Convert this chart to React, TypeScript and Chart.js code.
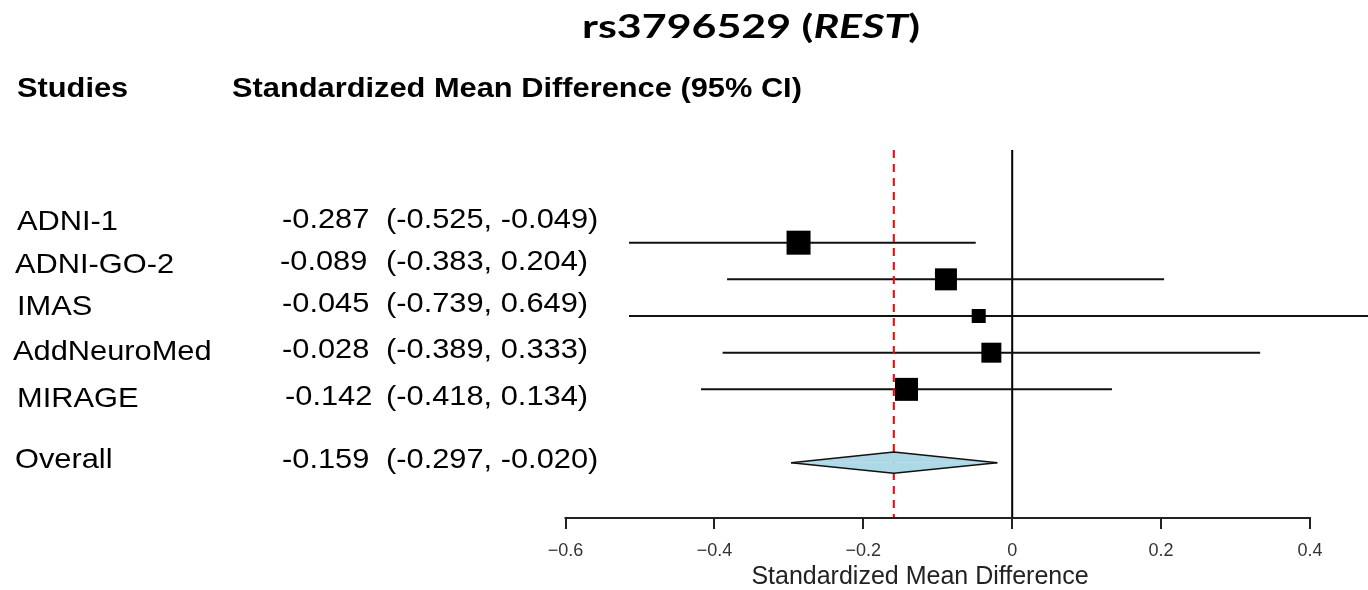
import React, { useEffect, useRef } from 'react';
import { Chart, registerables } from 'chart.js';

Chart.register(...registerables);

// ---------------- data ----------------
const studies = ['ADNI-1', 'ADNI-GO-2', 'IMAS', 'AddNeuroMed', 'MIRAGE'];
const smd = [-0.287, -0.089, -0.045, -0.028, -0.142];
const ciLower = [-0.525, -0.383, -0.739, -0.389, -0.418];
const ciUpper = [-0.049, 0.204, 0.649, 0.333, 0.134];
const weights = [26.4, 22.2, 9.0, 18.3, 24.2];
const overallLabel = 'Overall';
const overallSmd = -0.159;
const overallLower = -0.297;
const overallUpper = -0.02;
const xTicks = [-0.6, -0.4, -0.2, 0, 0.2, 0.4];
const studyRows = [1, 2, 3, 4, 5];
const overallRow = 7;

const titleMain = 'rs3796529 (';
const titleGene = 'REST';
const titleEnd = ')';
const headStudies = 'Studies';
const headEffect = 'Standardized Mean Difference (95% CI)';
const axisTitle = 'Standardized Mean Difference';

// ---------------- layout ----------------
const W = 1368;
const H = 590;
const PLOT_LEFT = 472;
const AXIS_H = 72;
const X_MIN = -0.7256;
const X_MAX = 0.4779;
const Y_MIN = -5.618;
const Y_MAX = 8.508;
const REF_TOP = -1.53;
const CLIP_LEFT_PX = 629;
const MAX_SIDE = 24;
const DIAMOND_HALF = 0.29;
const FONT = "'Liberation Sans', Arial, sans-serif";
const TITLE_FONT = "Lato, 'Open Sans', sans-serif";
const TEXT_SX = 1.1;

const nameX = [17, 15, 17, 13, 17];
const nameBase = [230, 273, 315, 360, 407];
const valX = [282, 280, 282, 282, 285];
const valBase = [228, 270, 312, 358, 405];
const ciX = 386;
const overallNameX = 15;
const overallBase = 468;

const fmt = (v: number) => v.toFixed(3);
const fmtTick = (v: number) => {
  const r = Math.round(v * 10) / 10;
  if (r === 0) return '0';
  return (r < 0 ? '\u2212' : '') + Math.abs(r).toFixed(1);
};

function drawText(ctx: CanvasRenderingContext2D, text: string, x: number, y: number, font: string, sx = 1) {
  ctx.save();
  ctx.translate(x, y);
  ctx.scale(sx, 1);
  ctx.font = font;
  ctx.textAlign = 'left';
  ctx.textBaseline = 'alphabetic';
  ctx.fillStyle = '#000';
  ctx.fillText(text, 0, 0);
  ctx.restore();
}

const TF = `bold 32px ${TITLE_FONT}`;
const TFI = `italic bold 32px ${TITLE_FONT}`;

const textPlugin = {
  id: 'forestText',
  afterDraw(chart: any) {
    const ctx: CanvasRenderingContext2D = chart.ctx;
    const xs = chart.scales.x;
    const area = chart.chartArea;

    // axis line
    ctx.save();
    ctx.strokeStyle = '#222';
    ctx.lineWidth = 2;
    ctx.lineCap = 'square';
    ctx.beginPath();
    ctx.moveTo(xs.getPixelForValue(xTicks[0]), area.bottom);
    ctx.lineTo(xs.getPixelForValue(xTicks[xTicks.length - 1]), area.bottom);
    ctx.stroke();
    ctx.restore();

    // title with italic gene name
    ctx.save();
    ctx.font = TF;
    const w1 = ctx.measureText(titleMain).width;
    const w3 = ctx.measureText(titleEnd).width;
    ctx.font = TFI;
    const w2 = ctx.measureText(titleGene).width;
    ctx.restore();
    const tsx = 338 / (w1 + w2 + w3);
    const tx = 582;
    const ty = 38;
    drawText(ctx, titleMain, tx, ty, TF, tsx);
    drawText(ctx, titleGene, tx + w1 * tsx, ty, TFI, tsx);
    drawText(ctx, titleEnd, tx + (w1 + w2) * tsx, ty, TF, tsx);

    // headers
    const hf = `bold 28px ${FONT}`;
    drawText(ctx, headStudies, 17, 97, hf, TEXT_SX);
    drawText(ctx, headEffect, 232, 97, hf, TEXT_SX);

    // rows
    const rf = `28px ${FONT}`;
    studies.forEach((s, i) => {
      drawText(ctx, s, nameX[i], nameBase[i], rf, TEXT_SX);
      drawText(ctx, fmt(smd[i]), valX[i], valBase[i], rf, TEXT_SX);
      drawText(ctx, `(${fmt(ciLower[i])}, ${fmt(ciUpper[i])})`, ciX, valBase[i], rf, TEXT_SX);
    });
    drawText(ctx, overallLabel, overallNameX, overallBase, rf, TEXT_SX);
    drawText(ctx, fmt(overallSmd), 282, overallBase, rf, TEXT_SX);
    drawText(ctx, `(${fmt(overallLower)}, ${fmt(overallUpper)})`, ciX, overallBase, rf, TEXT_SX);
  },
};

export default function App() {
  const ref = useRef<HTMLCanvasElement>(null);

  useEffect(() => {
    const maxW = Math.max(...weights);
    const ciClip = { left: -(CLIP_LEFT_PX - PLOT_LEFT), top: false, right: 0, bottom: false };

    const datasets: any[] = [];

    datasets.push({
      label: 'zero',
      data: [
        { x: 0, y: REF_TOP },
        { x: 0, y: Y_MAX },
      ],
      borderColor: '#000',
      borderWidth: 2,
      pointRadius: 0,
      order: 5,
    });

    studies.forEach((s, i) => {
      datasets.push({
        label: s + ' CI',
        data: [
          { x: ciLower[i], y: studyRows[i] },
          { x: ciUpper[i], y: studyRows[i] },
        ],
        borderColor: '#111',
        borderWidth: 2,
        pointRadius: 0,
        clip: ciClip,
        order: 4,
      });
    });

    datasets.push({
      label: 'overall ref',
      data: [
        { x: overallSmd, y: REF_TOP },
        { x: overallSmd, y: Y_MAX },
      ],
      borderColor: '#ff0000',
      borderWidth: 2,
      borderDash: [8, 6],
      pointRadius: 0,
      order: 3,
    });

    datasets.push({
      label: 'estimates',
      data: smd.map((v, i) => ({ x: v, y: studyRows[i] })),
      showLine: false,
      pointStyle: 'rect',
      pointRadius: weights.map((w) => (MAX_SIDE * Math.sqrt(w / maxW)) / Math.SQRT2),
      pointBackgroundColor: '#000',
      pointBorderWidth: 0,
      order: 2,
    });

    [-1, 1].forEach((sgn) => {
      datasets.push({
        label: 'diamond',
        data: [
          { x: overallLower, y: overallRow },
          { x: overallSmd, y: overallRow + sgn * DIAMOND_HALF },
          { x: overallUpper, y: overallRow },
        ],
        borderColor: '#111',
        borderWidth: 1.5,
        backgroundColor: '#add8e6',
        fill: { target: { value: overallRow }, above: '#add8e6', below: '#add8e6' },
        pointRadius: 0,
        order: 1,
      });
    });

    const chart = new Chart(ref.current as HTMLCanvasElement, {
      type: 'line',
      data: { datasets },
      options: {
        animation: false,
        responsive: false,
        devicePixelRatio: 1,
        layout: { autoPadding: false, padding: { left: PLOT_LEFT, right: 0, top: 0, bottom: 0 } },
        plugins: {
          legend: { display: false },
          tooltip: { enabled: false },
          title: { display: false },
        },
        scales: {
          x: {
            type: 'linear',
            min: X_MIN,
            max: X_MAX,
            afterBuildTicks: (s: any) => {
              s.ticks = xTicks.map((v) => ({ value: v }));
            },
            afterFit: (s: any) => {
              s.height = AXIS_H;
            },
            grid: {
              display: true,
              drawOnChartArea: false,
              drawTicks: true,
              tickLength: 11,
              tickWidth: 2,
              tickColor: '#222',
              color: '#222',
              lineWidth: 2,
            },
            border: { display: false },
            ticks: {
              autoSkip: false,
              maxRotation: 0,
              padding: 11,
              color: '#333',
              font: { family: FONT, size: 18 },
              callback: (v: any) => fmtTick(Number(v)),
            },
            title: {
              display: true,
              text: axisTitle,
              color: '#222',
              font: { family: FONT, size: 25, lineHeight: 1 },
              padding: { top: 0, bottom: 0 },
            },
          },
          y: {
            type: 'linear',
            display: false,
            reverse: true,
            min: Y_MIN,
            max: Y_MAX,
          },
        },
      } as any,
      plugins: [textPlugin],
    });

    let alive = true;
    const fonts: any = (document as any).fonts;
    if (fonts && fonts.load) {
      Promise.all([fonts.load(TF, titleMain), fonts.load(TFI, titleGene)])
        .catch(() => null)
        .then(() => {
          if (alive) chart.update();
        });
    }

    return () => {
      alive = false;
      chart.destroy();
    };
  }, []);

  return (
    <div style={{ position: 'fixed', left: 0, top: 0, width: W, height: H, background: '#fff' }}>
      <canvas ref={ref} width={W} height={H} style={{ display: 'block', width: W, height: H }} />
    </div>
  );
}
